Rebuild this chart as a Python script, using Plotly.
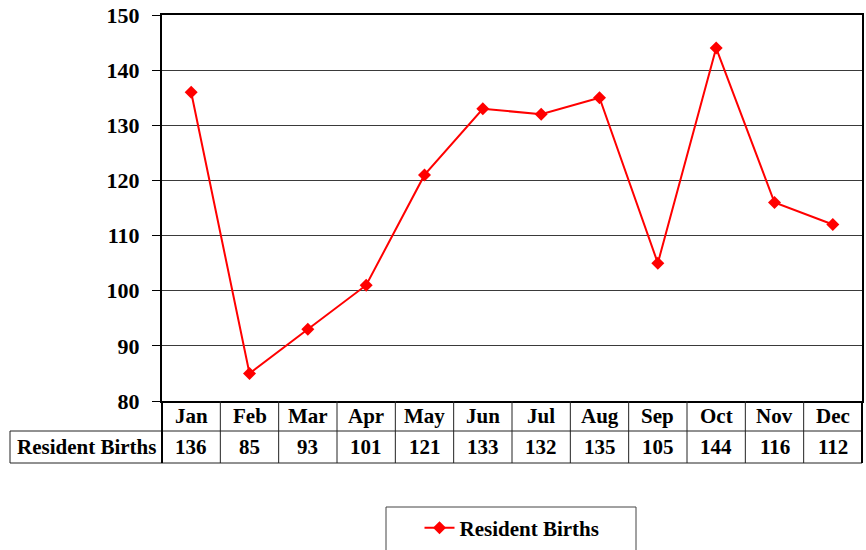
import plotly.graph_objects as go

months = ["Jan", "Feb", "Mar", "Apr", "May", "Jun", "Jul", "Aug", "Sep", "Oct", "Nov", "Dec"]
births = [136, 85, 93, 101, 121, 133, 132, 135, 105, 144, 116, 112]
series_name = "Resident Births"
y_ticks = [80, 90, 100, 110, 120, 130, 140, 150]

FONT = "Liberation Serif"
OFF = 0  # page body margin removed via post_script
W, H = 866, 550
L, R, T, B = 162, 4, 15, 149
PW, PH = W - L - R, H - T - B

def py(pix):  # viewport pixel row -> paper y
    return (H - B - (pix - OFF)) / PH

def px(pix):  # viewport pixel col -> paper x
    return (pix - OFF - L) / PW

fig = go.Figure()
fig.add_trace(go.Scatter(
    x=list(range(len(months))), y=births, name=series_name,
    mode="lines+markers",
    line=dict(color="#ff0000", width=2),
    marker=dict(symbol="diamond", size=10, color="#ff0000"),
    showlegend=True,
))

n = len(months)
shapes = []
annotations = []
row1_top, row1_bot, row2_bot = py(401), py(431), py(463)
lbl_left = px(10)
lc = dict(color="#222", width=1)
shapes.append(dict(type="line", xref="paper", yref="paper", x0=lbl_left, x1=1, y0=row1_bot, y1=row1_bot, line=lc))
shapes.append(dict(type="line", xref="paper", yref="paper", x0=lbl_left, x1=1, y0=row2_bot, y1=row2_bot, line=lc))
shapes.append(dict(type="line", xref="paper", yref="paper", x0=lbl_left, x1=lbl_left, y0=row1_bot, y1=row2_bot, line=lc))
shapes.append(dict(type="line", xref="paper", yref="paper", x0=0, x1=0, y0=row1_top, y1=row2_bot,
                   line=dict(color="black", width=2)))
for i in range(1, n + 1):
    xd = i / n
    shapes.append(dict(type="line", xref="x domain", yref="paper", x0=xd, x1=xd, y0=row1_top, y1=row2_bot,
                       line=dict(color="black", width=2) if i == n else lc))

cell_font = dict(family=FONT, size=21, color="black", weight="bold")
for i, (m, v) in enumerate(zip(months, births)):
    annotations.append(dict(x=i, y=(row1_top + row1_bot) / 2, xref="x", yref="paper", text=m,
                            showarrow=False, font=cell_font, xanchor="center", yanchor="middle"))
    annotations.append(dict(x=i, y=(row1_bot + row2_bot) / 2, xref="x", yref="paper", text=str(v),
                            showarrow=False, font=cell_font, xanchor="center", yanchor="middle"))
annotations.append(dict(x=lbl_left / 2, y=(row1_bot + row2_bot) / 2, xref="paper", yref="paper",
                        text=series_name, showarrow=False, font=cell_font,
                        xanchor="center", yanchor="middle"))

# legend box (bottom runs past the page edge, as in the reference)
shapes.append(dict(type="rect", xref="paper", yref="paper", x0=px(386), x1=px(636), y0=py(507), y1=py(570),
                   line=dict(color="#444", width=1), fillcolor="rgba(0,0,0,0)"))

fig.update_layout(
    width=W, height=H,
    margin=dict(l=L, r=R, t=T, b=B, pad=0, autoexpand=False),
    plot_bgcolor="white", paper_bgcolor="white",
    font=dict(family=FONT, color="black"),
    xaxis=dict(range=[-0.5, n - 0.5], showticklabels=False, showgrid=False, zeroline=False,
               showline=True, linecolor="black", linewidth=2, mirror=True, ticks="", automargin=False),
    yaxis=dict(range=[80, 150], tickvals=y_ticks, showgrid=True, gridcolor="#3a3a3a", gridwidth=1,
               zeroline=False, showline=True, linecolor="black", linewidth=2, mirror=True,
               ticks="outside", ticklen=8, tickcolor="black", tickwidth=1, automargin=False,
               ticklabelstandoff=8, ticklabeloverflow="allow",
               tickfont=dict(family=FONT, size=22, color="black", weight="bold")),
    showlegend=True,
    legend=dict(x=0.5, xanchor="center", y=py(528), yanchor="middle", bgcolor="rgba(0,0,0,0)",
                font=dict(family=FONT, size=21, color="black", weight="bold"), orientation="h"),
    shapes=shapes, annotations=annotations,
)
fig.write_html("out.html", config={"displayModeBar": False},
               post_script="document.body.style.margin='0px';document.body.style.overflow='hidden';")
